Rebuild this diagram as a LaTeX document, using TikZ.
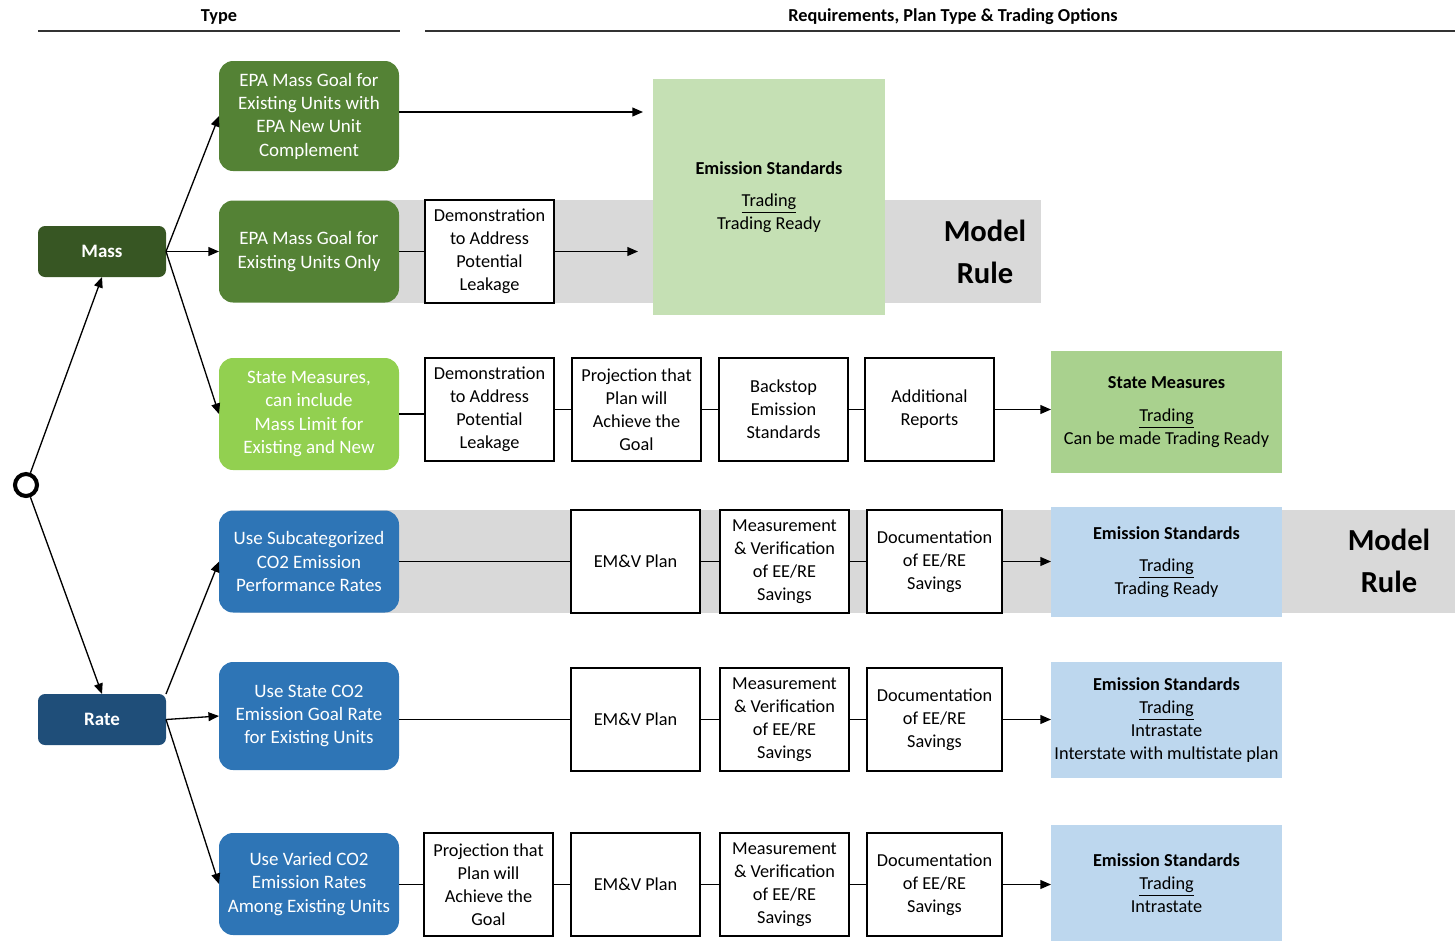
\documentclass[tikz,border=0pt]{standalone}
\usepackage{fontspec}
\setmainfont{Carlito}
\usetikzlibrary{arrows.meta}
\definecolor{massg}{HTML}{375623}
\definecolor{midg}{HTML}{548235}
\definecolor{lightg}{HTML}{92D050}
\definecolor{esg}{HTML}{C5E0B4}
\definecolor{smg}{HTML}{A9D18E}
\definecolor{rateb}{HTML}{1F4E79}
\definecolor{midb}{HTML}{2E75B6}
\definecolor{esb}{HTML}{BDD7EE}
\definecolor{band}{HTML}{D9D9D9}
\begin{document}
\begin{tikzpicture}[x=0.02cm,y=-0.02cm,
  sz/.style 2 args={minimum width=#1*0.02cm, minimum height=#2*0.02cm},
  base/.style={inner sep=0pt, outer sep=0pt, align=center},
  cbox/.style={base, rounded corners=8pt, text=white, font=\fontsize{10.8}{13.3}\selectfont},
  topbox/.style={base, rounded corners=4pt, text=white, font=\bfseries\fontsize{10.8}{13.3}\selectfont},
  wbox/.style={base, draw=black, line width=0.8pt, fill=white, font=\fontsize{10.4}{13}\selectfont},
  esbox/.style={base, font=\fontsize{10.4}{13}\selectfont},
  mrule/.style={base, font=\bfseries\fontsize{17.4}{23.5}\selectfont},
  hdr/.style={base, font=\bfseries\fontsize{10.4}{13}\selectfont},
  conn/.style={line width=0.75pt},
  arr/.style={conn, -{Triangle[length=6pt,width=5pt]}}
]
\useasboundingbox (0,0) rectangle (1455,941);

% headers
\node[hdr] (htype) at (219,17) {Type};
\node[hdr] (hreq) at (953,17) {Requirements, Plan Type \& Trading Options};
\draw[line width=0.8pt, black!80] (38,31) -- (400,31);
\draw[line width=0.8pt, black!80] (425,31) -- (1455,31);

% gray bands
\fill[band] (270,200) rectangle (1041,303);
\fill[band] (240,510) rectangle (1455,613);

% start circle
\node[circle, draw=black, line width=2.3pt, minimum size=22*0.02cm, inner sep=0pt] (circ) at (26,485) {};

% type nodes
\node[topbox, fill=massg, sz={128}{51}] (mass) at (102,251.5) {Mass};
\node[topbox, fill=rateb, sz={128}{51}] (rate) at (102,719.5) {Rate};

% colored boxes
\node[cbox, fill=midg, sz={180}{110}] (g1) at (309,116) {EPA Mass Goal for\\Existing Units with\\EPA New Unit\\Complement};
\node[cbox, fill=midg, sz={180}{102}] (g2) at (309,251.5) {EPA Mass Goal for\\Existing Units Only};
\node[cbox, fill=lightg, sz={180}{112}] (g3) at (309,414) {State Measures,\\can include\\Mass Limit for\\Existing and New};
\node[cbox, fill=midb, sz={180}{102}] (b1) at (309,561.5) {Use Subcategorized\\CO2 Emission\\Performance Rates};
\node[cbox, fill=midb, sz={180}{108}] (b2) at (309,716) {Use State CO2\\Emission Goal Rate\\for Existing Units};
\node[cbox, fill=midb, sz={180}{102}] (b3) at (309,884) {Use Varied CO2\\Emission Rates\\Among Existing Units};

% outcome boxes
\node[esbox, fill=esg, sz={232}{236}] (es1) at (769,197) {\textbf{Emission Standards}\\[5.5pt]\underline{Trading}\\Trading Ready};
\node[esbox, fill=smg, sz={231}{122}] (sm) at (1166.5,412) {\textbf{State Measures}\\[5.5pt]\underline{Trading}\\Can be made Trading Ready};
\node[esbox, fill=esb, sz={231}{110}] (es4) at (1166.5,562) {\textbf{Emission Standards}\\[5.5pt]\underline{Trading}\\Trading Ready};
\node[esbox, fill=esb, sz={231}{116}] (es5) at (1166.5,720) {\textbf{Emission Standards}\\\underline{Trading}\\Intrastate\\Interstate with multistate plan};
\node[esbox, fill=esb, sz={231}{116}] (es6) at (1166.5,883) {\textbf{Emission Standards}\\\underline{Trading}\\Intrastate};

\node[mrule] (mr1) at (985,252) {Model\\Rule};
\node[mrule] (mr2) at (1389,561) {Model\\Rule};

% white step boxes
\node[wbox, sz={129}{103}] (d2) at (489.5,251.5) {Demonstration\\to Address\\Potential\\Leakage};

\node[wbox, sz={129}{103}] (d3) at (489.5,409.5) {Demonstration\\to Address\\Potential\\Leakage};
\node[wbox, sz={129}{103}] (p3) at (636.5,409.5) {Projection that\\Plan will\\Achieve the\\Goal};
\node[wbox, sz={129}{103}] (s3) at (783.5,409.5) {Backstop\\Emission\\Standards};
\node[wbox, sz={129}{103}] (a3) at (929.5,409.5) {Additional\\Reports};

\node[wbox, sz={129}{103}] (e4) at (635.5,561.5) {EM\&V Plan};
\node[wbox, sz={129}{103}] (m4) at (784.5,561.5) {Measurement\\\& Verification\\of EE/RE\\Savings};
\node[wbox, sz={135}{103}] (c4) at (934.5,561.5) {Documentation\\of EE/RE\\Savings};

\node[wbox, sz={129}{103}] (e5) at (635.5,719.5) {EM\&V Plan};
\node[wbox, sz={129}{103}] (m5) at (784.5,719.5) {Measurement\\\& Verification\\of EE/RE\\Savings};
\node[wbox, sz={135}{103}] (c5) at (934.5,719.5) {Documentation\\of EE/RE\\Savings};

\node[wbox, sz={129}{103}] (p6) at (488.5,884.5) {Projection that\\Plan will\\Achieve the\\Goal};
\node[wbox, sz={129}{103}] (e6) at (635.5,884.5) {EM\&V Plan};
\node[wbox, sz={129}{103}] (m6) at (784.5,884.5) {Measurement\\\& Verification\\of EE/RE\\Savings};
\node[wbox, sz={135}{103}] (c6) at (934.5,884.5) {Documentation\\of EE/RE\\Savings};

% free ends
\coordinate (t1) at (643,112);
\coordinate (t2) at (638,251.5);

% connectors from start
\draw[arr] (circ) -- (mass.south);
\draw[arr] (circ) -- (rate.north);

% mass branches
\draw[arr] (mass.east) -- (g1.west);
\draw[arr] (mass.east) -- (g2.west);
\draw[arr] (mass.east) -- (g3.west);

% rate branches
\draw[arr] (rate.north east) -- (b1.west);
\draw[arr] (rate.east) -- (b2.west);
\draw[arr] (rate.east) -- (b3.west);

% row 1
\draw[arr] (g1.east |- t1) -- (t1);
% row 2
\draw[conn] (g2) -- (d2);
\draw[arr] (d2) -- (t2);
% row 3
\draw[conn] (g3.east) -- (d3.west |- g3.east);
\draw[conn] (d3) -- (p3);
\draw[conn] (p3) -- (s3);
\draw[conn] (s3) -- (a3);
\draw[arr] (a3.east) -- (sm.west |- a3.east);
% row 4
\draw[conn] (b1) -- (e4);
\draw[conn] (e4) -- (m4);
\draw[conn] (m4) -- (c4);
\draw[arr] (c4.east) -- (es4.west |- c4.east);
% row 5
\draw[conn] (b2.east |- e5.west) -- (e5.west);
\draw[conn] (e5) -- (m5);
\draw[conn] (m5) -- (c5);
\draw[arr] (c5.east) -- (es5.west |- c5.east);
% row 6
\draw[conn] (b3.east |- p6.west) -- (p6.west);
\draw[conn] (p6) -- (e6);
\draw[conn] (e6) -- (m6);
\draw[conn] (m6) -- (c6);
\draw[arr] (c6.east) -- (es6.west |- c6.east);
\end{tikzpicture}
\end{document}
